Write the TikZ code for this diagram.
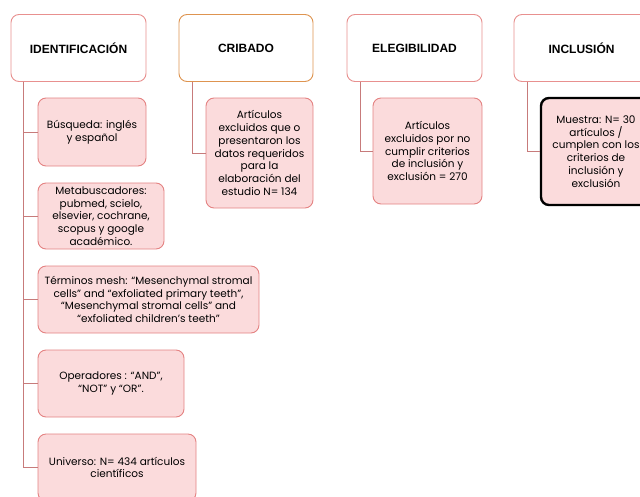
\documentclass[tikz,border=0pt]{standalone}
\usepackage{fontspec}
\setmainfont{Poppins}
\newfontfamily\headfont{Liberation Sans}
\usetikzlibrary{calc}
\definecolor{hdrborder}{HTML}{E8908F}
\definecolor{cribborder}{HTML}{DE9450}
\definecolor{kidborder}{HTML}{E48282}
\definecolor{kidfill}{HTML}{FBDBDC}
\definecolor{linkcol}{HTML}{C77B7B}
\tikzset{
  header/.style={draw=hdrborder, line width=0.9pt, rounded corners=8pt, fill=white,
    minimum width=135pt, minimum height=67pt, inner sep=0pt,
    font=\headfont\bfseries\fontsize{12}{14}\selectfont},
  kid/.style={draw=kidborder, line width=0.9pt, rounded corners=8pt, fill=kidfill,
    inner sep=0pt, align=center, font=\fontsize{10.5}{12.7}\selectfont},
  link/.style={draw=linkcol, line width=0.9pt},
}
\begin{document}
\begin{tikzpicture}[x=1pt,y=-1pt]
\useasboundingbox (0,0) rectangle (640,496);
\clip (0,0) rectangle (640,496);
% headers
\node[header] (ident) at (78.5,48) {IDENTIFICACIÓN};
\node[header, draw=cribborder, minimum width=134pt] (crib) at (246,48) {CRIBADO};
\node[header] (eleg) at (414.5,48) {ELEGIBILIDAD};
\node[header] (incl) at (581.5,48) {INCLUSIÓN};
% children
\node[kid, minimum width=108pt, minimum height=68pt] (bus) at (92,132) {Búsqueda: inglés\\y español};
\node[kid, minimum width=126pt, minimum height=66pt] (meta) at (101,216) {Metabuscadores:\\pubmed, scielo,\\elsevier, cochrane,\\scopus y google\\académico.};
\node[kid, minimum width=221pt, minimum height=67pt] (term) at (148.5,299.5) {Términos mesh: “Mesenchymal stromal\\cells” and “exfoliated primary teeth”,\\“Mesenchymal stromal cells” and\\“exfoliated children’s teeth”};
\node[kid, minimum width=146pt, minimum height=67pt] (oper) at (111,383.5) {Operadores : “AND”,\\“NOT” y “OR”.};
\node[kid, minimum width=158pt, minimum height=67pt] (univ) at (117,467.5) {Universo: N= 434 artículos\\científicos};
\node[kid, minimum width=107pt, minimum height=110pt] (cribk) at (259.5,153) {Artículos\\excluidos que o\\presentaron los\\datos requeridos\\para la\\elaboración del\\estudio N= 134};
\node[kid, minimum width=109pt, minimum height=106pt] (elegk) at (427.5,151) {Artículos\\excluidos por no\\cumplir criterios\\de inclusión y\\exclusión = 270};
\node[kid, draw=black, line width=2.4pt, minimum width=110pt, minimum height=107pt] (muest) at (596,151.5) {Muestra: N= 30\\artículos /\\cumplen con los\\criterios de\\inclusión y\\exclusión};
% connectors
\coordinate (ia) at ($(ident.south west)+(13,0)$);
\draw[link] (ia) |- (bus.west);
\draw[link] (ia) |- (meta.west);
\draw[link] (ia) |- (term.west);
\draw[link] (ia) |- (oper.west);
\draw[link] (ia) |- (univ.west);
\coordinate (ca) at ($(crib.south west)+(14,0)$);
\draw[link] (ca) |- (cribk.west);
\coordinate (ea) at ($(eleg.south west)+(14,0)$);
\draw[link] (ea) |- (elegk.west);
\coordinate (na) at ($(incl.south west)+(14,0)$);
\draw[link] (na) |- (muest.west);
\end{tikzpicture}
\end{document}
